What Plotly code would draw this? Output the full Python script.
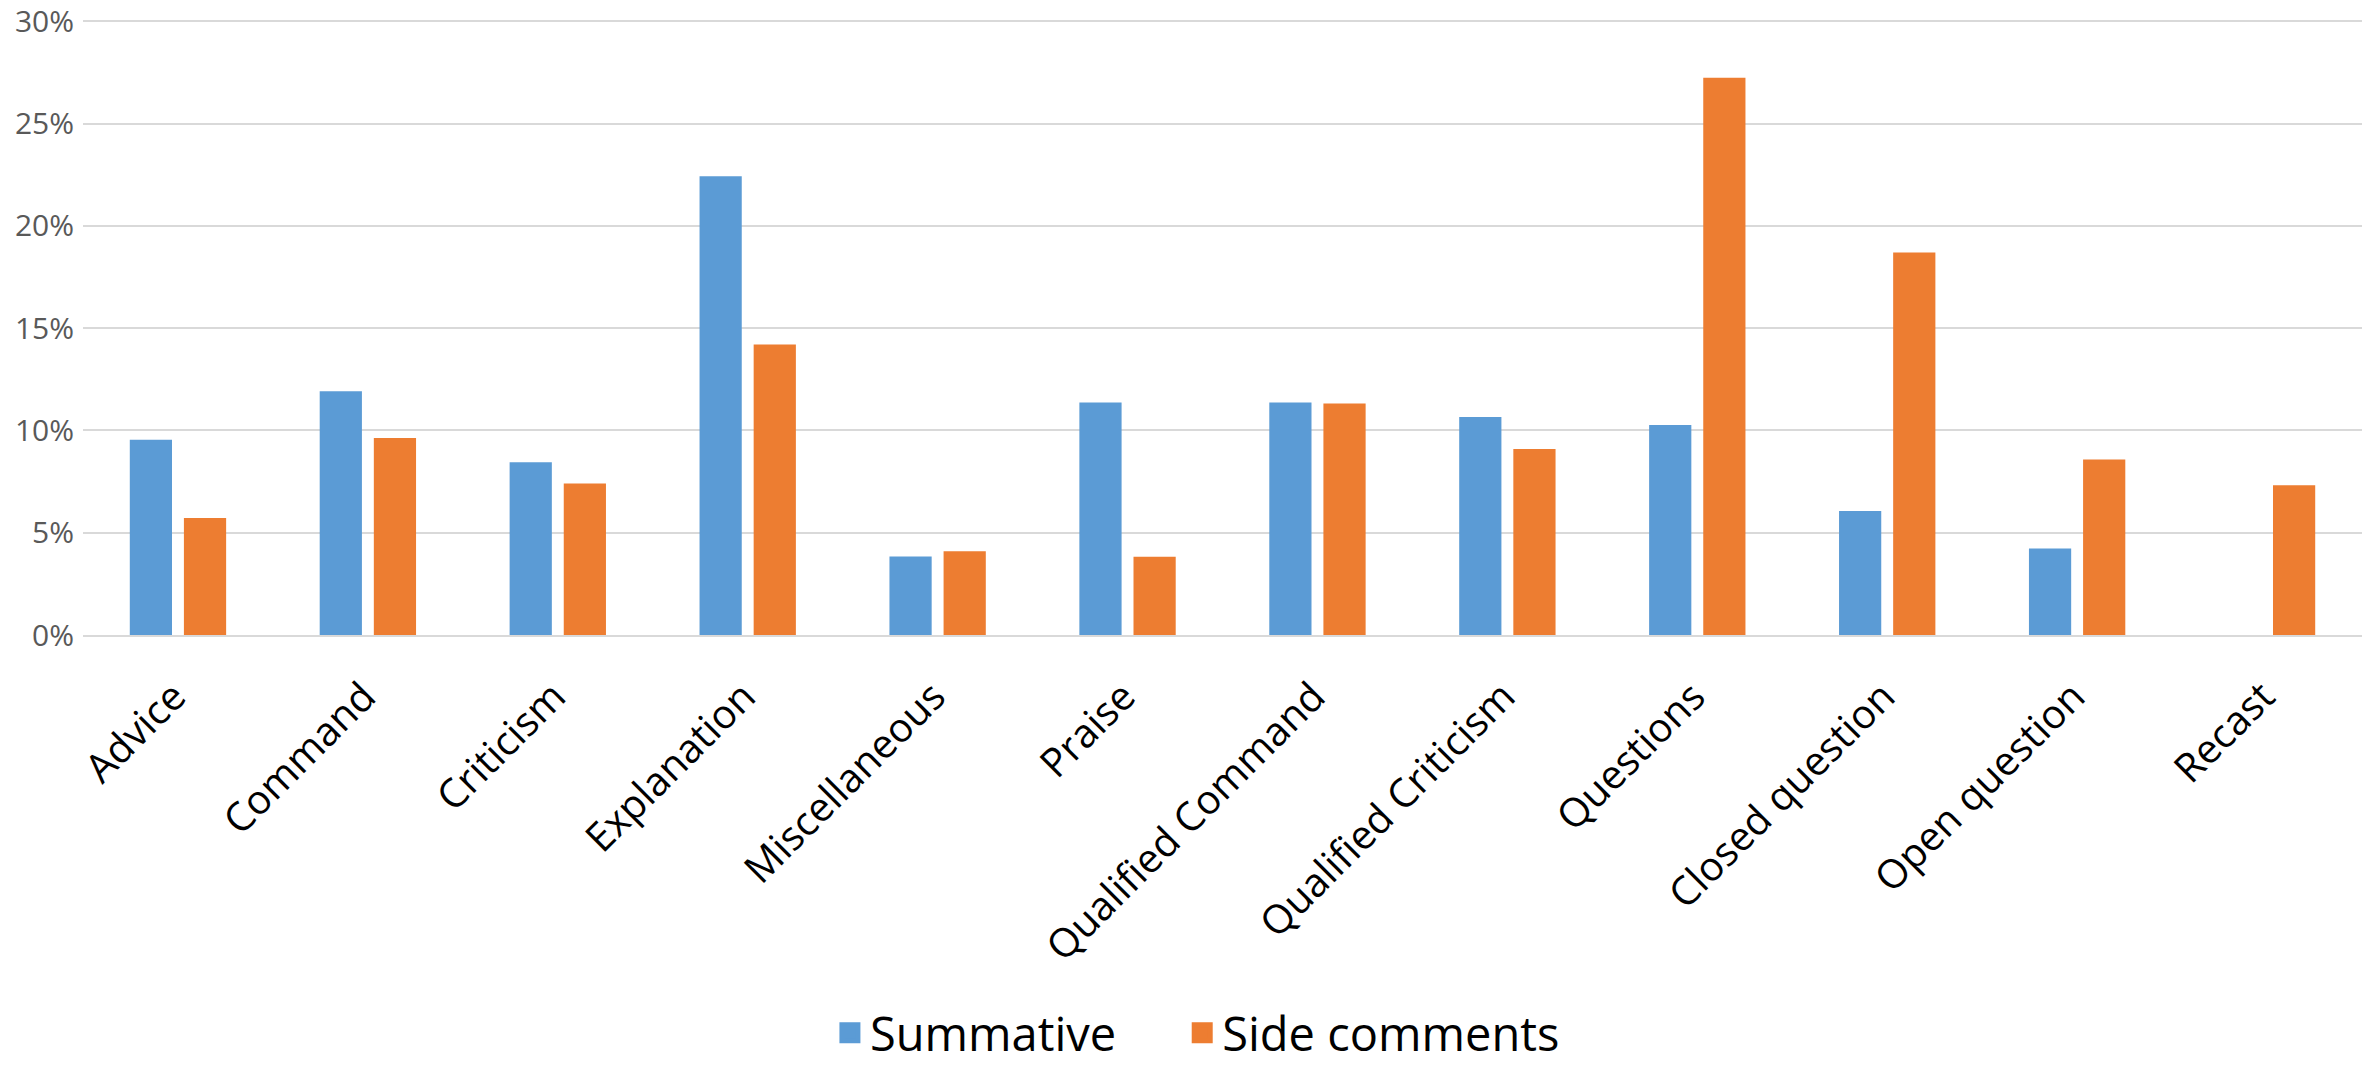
import plotly.graph_objects as go

# Feedback categories and the share of each feedback type per comment mode
categories = [
    "Advice", "Command", "Criticism", "Explanation", "Miscellaneous", "Praise",
    "Qualified Command", "Qualified Criticism", "Questions", "Closed question",
    "Open question", "Recast",
]
summative = [0.0954, 0.1191, 0.0844, 0.2242, 0.0384, 0.1136,
             0.1136, 0.1065, 0.1027, 0.0606, 0.0423, 0.0]
side_comments = [0.0572, 0.0963, 0.0740, 0.1420, 0.0409, 0.0382,
                 0.1132, 0.0909, 0.2724, 0.1870, 0.0858, 0.0732]
series_names = ["Summative", "Side comments"]
y_ticks = [0, 0.05, 0.10, 0.15, 0.20, 0.25, 0.30]

BLUE = "#5B9BD5"
ORANGE = "#ED7D31"
GRID = "#D9D9D9"
FONT = "Open Sans"
ENTRY_PAD = "\u00a0" * 5  # extra room between the two legend entries

fig = go.Figure()
for i, (name, values, color) in enumerate(
        zip(series_names, [summative, side_comments], [BLUE, ORANGE])):
    fig.add_trace(go.Bar(name=name, x=categories, y=values, legendgroup=name,
                         showlegend=False,
                         marker=dict(color=color, line=dict(width=0))))
    # legend entry with a larger square swatch
    label = name + (ENTRY_PAD if i == 0 else "")
    fig.add_trace(go.Scatter(name=label, x=[None], y=[None], mode="markers",
                             legendgroup=name, showlegend=True, hoverinfo="skip",
                             marker=dict(symbol="square", size=16, color=color,
                                         line=dict(color=color, width=5))))

fig.update_layout(
    width=2366, height=1067,
    margin=dict(l=83, r=4, t=11, b=432, autoexpand=False),
    paper_bgcolor="white", plot_bgcolor="white",
    barmode="group", bargap=0.43, bargroupgap=0.22,
    font=dict(family=FONT, color="black"),
    showlegend=True,
    legend=dict(orientation="h", x=0.489, xanchor="center",
                y=-0.638, yanchor="middle",
                font=dict(family=FONT, size=47, color="black"),
                itemwidth=30, itemsizing="trace", traceorder="normal"),
    xaxis=dict(
        type="category", tickangle=-45, automargin=False,
        tickfont=dict(family=FONT, size=40, color="black"),
        showgrid=False, showline=True, linecolor=GRID, linewidth=2,
        ticks="", zeroline=False, ticklabelstandoff=20, ticklabelshift=-4,
    ),
    yaxis=dict(
        range=[0, 0.305], tickvals=y_ticks, tickformat=".0%", automargin=False,
        tickfont=dict(family=FONT, size=30, color="#595959"),
        showgrid=True, gridcolor=GRID, gridwidth=2, ticklabeloverflow="allow",
        zeroline=False, showline=False, ticks="", ticklabelstandoff=8,
    ),
)

fig.write_html("out.html")
